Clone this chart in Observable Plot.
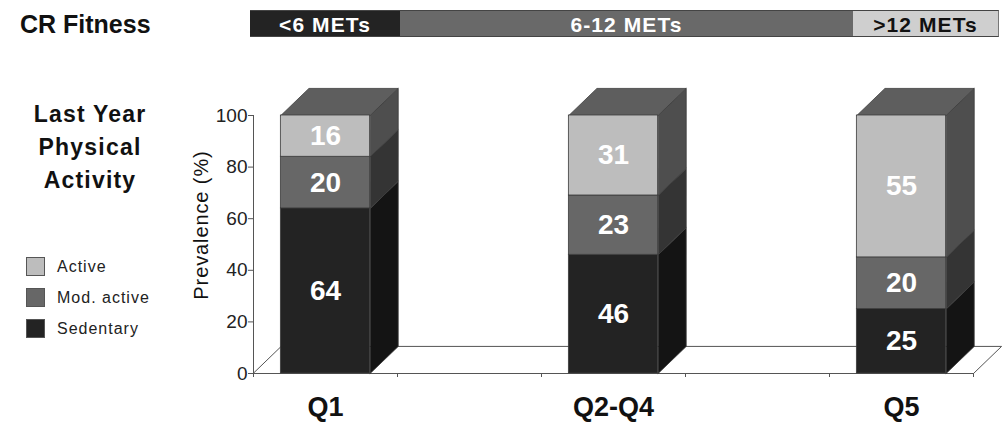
<!DOCTYPE html>
<html>
<head>
<meta charset="utf-8">
<script src="https://cdn.jsdelivr.net/npm/d3@7"></script>
<script src="https://cdn.jsdelivr.net/npm/@observablehq/plot@0.6"></script>
<style>
  body { margin: 0; background: #fff; font-family: "Liberation Sans", Arial, Helvetica, sans-serif; }
  #wrap { position: relative; width: 1005px; height: 425px; overflow: hidden; }
  #chart { position: absolute; left: 0; top: 0; }
  .ov { position: absolute; white-space: nowrap; color: #111; }
  .seg { position: absolute; top: 10px; height: 27px; line-height: 27px; text-align: center;
         font-size: 21px; font-weight: bold; letter-spacing: 1.1px; box-sizing: border-box; }
  .sw { position: absolute; left: 26px; width: 19px; height: 19px; box-sizing: border-box; border: 1px solid #555; }
  .lg { position: absolute; left: 57px; font-size: 16px; letter-spacing: 1px; line-height: 19px; color: #222; }
</style>
</head>
<body>
<div id="wrap">
  <div id="chart"></div>
  <div class="ov" style="left:20px;top:12px;font-size:25px;line-height:25px;font-weight:bold;">CR Fitness</div>
  <div id="hdr"></div>
  <div class="ov" style="left:0;width:180px;top:98px;font-size:23px;line-height:33px;font-weight:bold;text-align:center;letter-spacing:1.2px;white-space:normal;">Last Year<br>Physical<br>Activity</div>
  <div id="legend"></div>
  <div class="ov" style="left:201px;top:225px;transform:translate(-50%,-50%) rotate(-90deg);font-size:20px;letter-spacing:0.9px;">Prevalence (%)</div>
</div>
<script>
// ---- data ----
const groups = ["Q1", "Q2-Q4", "Q5"];
const quintileCenter = [1, 3, 5];          // middle quintile of each fitness group
const quintileBounds = [0.5, 1.5, 2.5, 3.5, 4.5, 5.5];
const sedentary = [64, 46, 25];
const modActive = [20, 23, 20];
const active = [16, 31, 55];
const activityLevels = ["Sedentary", "Mod. active", "Active"];
const yTicks = [0, 20, 40, 60, 80, 100];
const fitnessBands = ["<6 METs", "6-12 METs", ">12 METs"];

// ---- styles ----
const frontColor = {"Sedentary": "#232323", "Mod. active": "#676767", "Active": "#bdbdbd"};
const sideColor  = {"Sedentary": "#141414", "Mod. active": "#343434", "Active": "#4e4e4e"};
const topColor = "#5e5e5e";
const edge = "#3c3c3c";
const BAR_W = 0.62, DX = 0.195, DY = 10.5;

// build segments
const series = {"Sedentary": sedentary, "Mod. active": modActive, "Active": active};
const segs = [];
groups.forEach((g, i) => {
  let y0 = 0;
  for (const lvl of activityLevels) {
    const v = series[lvl][i];
    segs.push({group: g, level: lvl, value: v, xc: quintileCenter[i],
               x1: quintileCenter[i] - BAR_W / 2, x2: quintileCenter[i] + BAR_W / 2,
               y1: y0, y2: y0 + v});
    y0 += v;
  }
});

// side & top face polygons
const polys = [];
segs.forEach((s, k) => {
  const id = "side" + k, f = sideColor[s.level];
  polys.push({id, fill: f, x: s.x2, y: s.y1},
             {id, fill: f, x: s.x2 + DX, y: s.y1 + DY},
             {id, fill: f, x: s.x2 + DX, y: s.y2 + DY},
             {id, fill: f, x: s.x2, y: s.y2});
});
groups.forEach((g, i) => {
  const top = sedentary[i] + modActive[i] + active[i];
  const x1 = quintileCenter[i] - BAR_W / 2, x2 = quintileCenter[i] + BAR_W / 2;
  const id = "top" + i;
  polys.push({id, fill: topColor, x: x1, y: top},
             {id, fill: topColor, x: x1 + DX, y: top + DY},
             {id, fill: topColor, x: x2 + DX, y: top + DY},
             {id, fill: topColor, x: x2, y: top});
});

const lo = quintileBounds[0], hi = quintileBounds[quintileBounds.length - 1];
const floor = [
  {x: lo, y: 0}, {x: hi, y: 0}, {x: hi + DX, y: DY}, {x: lo + DX, y: DY}
];

const chart = Plot.plot({
  width: 1005, height: 425,
  marginLeft: 253, marginRight: 32, marginTop: 115, marginBottom: 52,
  x: {domain: [lo, hi], axis: null},
  y: {domain: [0, 100], axis: null},
  color: {type: "identity"},
  style: {fontFamily: '"Liberation Sans", Arial, sans-serif', background: "transparent", overflow: "visible", color: "#222"},
  marks: [
    Plot.line(floor, {x: "x", y: "y", curve: "linear-closed", fill: "white", stroke: "#555", strokeWidth: 1}),
    Plot.axisX({ticks: quintileBounds, tickSize: 4, tickFormat: () => "", label: null, stroke: "#555"}),
    Plot.axisY({ticks: yTicks, tickSize: 5, tickPadding: 1, fontSize: 19, label: null, stroke: "#555"}),
    Plot.ruleX([lo], {y1: 0, y2: 100, stroke: "#555"}),
    Plot.line(polys, {x: "x", y: "y", z: "id", fill: "fill", stroke: edge, strokeWidth: 0.8, curve: "linear-closed"}),
    Plot.rect(segs, {x1: "x1", x2: "x2", y1: "y1", y2: "y2", fill: d => frontColor[d.level], stroke: edge, strokeWidth: 0.8}),
    Plot.text(segs, {x: "xc", y: d => (d.y1 + d.y2) / 2, text: d => String(d.value), fill: "white",
                     fontSize: 28, fontWeight: "bold", lineAnchor: "middle"}),
    Plot.text(groups, {x: (d, i) => quintileCenter[i], y: () => 0, dy: 34, text: d => d, fill: "#111",
                       fontSize: 27, fontWeight: "bold", lineAnchor: "middle"})
  ]
});
document.getElementById("chart").appendChild(chart);

// header bar (CR fitness bands)
const hdr = document.getElementById("hdr");
const bandBoxes = [[250, 400], [400, 853], [853, 999]];
const bandFill = ["#232323", "#696969", "#cfcfcf"];
const bandText = ["#fff", "#fff", "#111"];
fitnessBands.forEach((b, i) => {
  const d = document.createElement("div");
  d.className = "seg";
  d.style.left = bandBoxes[i][0] + "px";
  d.style.width = (bandBoxes[i][1] - bandBoxes[i][0]) + "px";
  d.style.background = bandFill[i];
  d.style.color = bandText[i];
  d.style.borderTop = "1px solid #444";
  d.style.borderBottom = "1px solid #444";
  if (i === 2) d.style.borderRight = "1px solid #777";
  d.textContent = b;
  hdr.appendChild(d);
});

// legend
const legend = document.getElementById("legend");
const legendOrder = ["Active", "Mod. active", "Sedentary"];
const legendTop = [257, 288, 319];
legendOrder.forEach((lvl, i) => {
  const s = document.createElement("div");
  s.className = "sw";
  s.style.top = legendTop[i] + "px";
  s.style.background = frontColor[lvl];
  legend.appendChild(s);
  const t = document.createElement("div");
  t.className = "lg";
  t.style.top = legendTop[i] + "px";
  t.textContent = lvl;
  legend.appendChild(t);
});
</script>
</body>
</html>
